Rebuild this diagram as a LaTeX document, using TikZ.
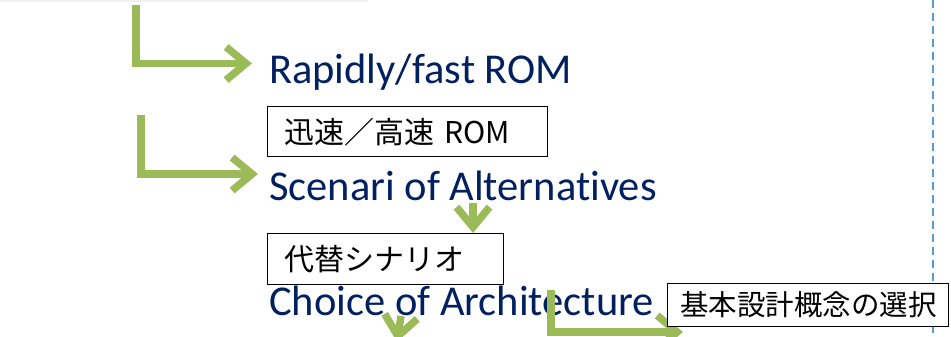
\documentclass[tikz,border=0pt]{standalone}
\usepackage{fontspec}
\newfontfamily\slidefont[Ligatures=NoCommon]{Carlito}
\newfontfamily\jpfont{Noto Sans CJK JP}
\usetikzlibrary{arrows.meta,positioning}
\definecolor{slidegreen}{RGB}{155,187,89}
\definecolor{slidenavy}{RGB}{0,32,96}
\definecolor{slideblue}{RGB}{91,155,213}

\begin{document}
\begin{tikzpicture}[x=1pt,y=-1pt,
    flow/.style={-{Straight Barb[length=20pt,width=33pt]},line width=7.5pt,slidegreen},
    heading/.style={anchor=base west,inner sep=0pt,text=slidenavy,font=\slidefont\fontsize{42.5}{48}\selectfont},
    jpbox/.style={draw,line width=1.3pt,fill=white,anchor=north west,align=left,inner xsep=17pt,inner ysep=0pt,font=\jpfont\fontsize{30}{34}\selectfont}]
                \clip (0,0) rectangle (951,337);
                \draw [black!6,line width=1.5pt] (0,1) -- (368,1);
                \draw [slideblue,line width=1.8pt,dash pattern=on 8pt off 5pt] (933,0) -- (933,337);
                \coordinate (R0) at (136,5);
                \coordinate (R1) at (252,63.5);
                \coordinate (S0) at (141,115);
                \coordinate (S1) at (258,174);
                \coordinate (D0) at (473,203);
                \coordinate (D1) at (473,233);
                \coordinate (L0) at (401,316);
                \coordinate (L1) at (397,342);
                \coordinate (C0) at (551,290);
                \coordinate (C1) at (683,332);
                \node [heading] (rom) at (269,84) {Rapidly/fast ROM};
                \node [heading] (scen) at (269,200) {Scenari of Alternatives};
                \node [heading] (choice) at (269,315) {Choice of Architecture};
                \draw [flow] (R0) |- (R1);
                \draw [flow] (S0) |- (S1);
                \draw [flow] (D0) -- (D1);
                \draw [flow] (L0) -- (L1);
                \draw [flow] (C0) |- (C1);
                \node [jpbox,text width=246pt,minimum height=50pt] (romjp) at (267,106) {迅速／高速 ROM};
                \node [jpbox,text width=202pt,minimum height=51pt] (scenjp) at (267,233) {代替シナリオ};
                \node [jpbox,font=\jpfont\fontsize{28.5}{32}\selectfont,inner xsep=12.5pt,text width=256pt,minimum height=43pt] (choicejp) at (667,283) {基本設計概念の選択};
            \end{tikzpicture}
\end{document}
